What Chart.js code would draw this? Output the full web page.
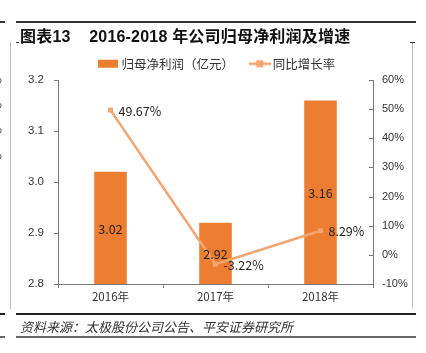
<!DOCTYPE html>
<html><head><meta charset="utf-8">
<script src="https://cdn.jsdelivr.net/npm/chart.js@4"></script>
<style>
html,body{margin:0;padding:0;background:#fff;width:426px;height:353px;overflow:hidden;}
#wrap{position:relative;width:426px;height:353px;}
canvas{position:absolute;left:0;top:0;}
.abs{position:absolute;}
#title{left:20px;top:23px;font:bold 16px "Liberation Sans","Noto Sans CJK SC",sans-serif;color:#111;white-space:nowrap;letter-spacing:0.2px;}
#src{left:20px;top:317px;font:italic 13px "Noto Sans CJK SC",sans-serif;color:#333;white-space:nowrap;}
.frag{font:11px "Liberation Sans",sans-serif;color:#333;}
</style></head>
<body><div id="wrap">
<canvas id="c" width="426" height="353"></canvas>
<div class="abs" style="left:16px;top:21px;width:400px;height:1.5px;background:#333"></div>
<div class="abs" style="left:0;top:21px;width:5px;height:1.5px;background:#333"></div>
<div id="title" class="abs">图表13&nbsp;&nbsp;&nbsp;&nbsp;2016-2018 年公司归母净利润及增速</div>
<div class="abs" style="left:10px;top:42px;width:1px;height:267px;background:#bbb"></div>
<div class="abs" style="left:412px;top:42px;width:1px;height:266px;background:#bbb"></div>
<div class="abs" style="left:16px;top:42px;width:3px;height:1px;background:#333"></div>
<div class="abs" style="left:410px;top:42px;width:5px;height:1px;background:#333"></div>
<div class="abs" style="left:16px;top:313px;width:400px;height:1.5px;background:#222"></div>
<div class="abs" style="left:0;top:313px;width:5px;height:1.5px;background:#222"></div>
<div id="src" class="abs">资料来源：太极股份公司公告、平安证券研究所</div>
<div class="abs" style="left:16px;top:336px;width:400px;height:2px;background:#666"></div>
<div class="abs" style="left:0;top:336px;width:5px;height:2px;background:#666"></div>
<div class="abs frag" style="left:-8px;top:73px">%</div>
<div class="abs frag" style="left:-8px;top:98px">%</div>
<div class="abs frag" style="left:-8px;top:123px">%</div>
<div class="abs frag" style="left:-8px;top:149px">%</div>
</div>
<script>
const categories = ['2016年', '2017年', '2018年'];
const profit = [3.02, 2.92, 3.16];           // 归母净利润（亿元）
const growth = [49.67, -3.22, 8.29];         // 同比增长率 (%)
const leftTicks = [2.8, 2.9, 3.0, 3.1, 3.2];
const rightTicks = [-10, 0, 10, 20, 30, 40, 50, 60];

const BAR = '#ED7D31';
const LINE = '#F4A46E';
const TXT = '#333';
const AXIS = '#777';

function mkIcon(kind){
  const cv = document.createElement('canvas');
  cv.width = 22; cv.height = 10;
  const g = cv.getContext('2d');
  if(kind==='bar'){ g.fillStyle = BAR; g.fillRect(0,1,20,8); }
  else { g.strokeStyle = LINE; g.lineWidth = 2.5; g.beginPath(); g.moveTo(0,5); g.lineTo(22,5); g.stroke();
         g.fillStyle = LINE; g.fillRect(7,1.5,7,7); }
  return cv;
}
const iconBar = mkIcon('bar'), iconLine = mkIcon('line');

const labelPlugin = {
  id:'labels',
  afterDatasetsDraw(chart){
    const ctx = chart.ctx;
    ctx.save();
    ctx.font = '12.5px "Noto Sans CJK SC", sans-serif';
    ctx.fillStyle = '#222';
    ctx.textBaseline = 'middle';
    const base = chart.scales.y.getPixelForValue(2.8);
    chart.getDatasetMeta(0).data.forEach((b,i)=>{
      const y = chart.scales.y.getPixelForValue(profit[i]);
      ctx.textAlign='center';
      ctx.fillText(profit[i].toFixed(2), b.x, (y+base)/2+1);
    });
    chart.getDatasetMeta(1).data.forEach((p,i)=>{
      ctx.textAlign='left';
      ctx.fillText(growth[i].toFixed(2)+'%', p.x+8, p.y+1);
    });
    const ys = chart.scales.y1;
    ctx.strokeStyle = AXIS; ctx.lineWidth = 1;
    rightTicks.forEach(v=>{
      const y = Math.round(ys.getPixelForValue(v))+0.5;
      ctx.beginPath(); ctx.moveTo(ys.left-4, y); ctx.lineTo(ys.left, y); ctx.stroke();
    });
    ctx.restore();
  }
};

const chart = new Chart(document.getElementById('c'), {
  data:{
    labels: categories,
    datasets:[
      {type:'bar', label:'归母净利润（亿元）', data: profit, backgroundColor: BAR, yAxisID:'y', barPercentage:0.62, categoryPercentage:0.5, order:2},
      {type:'line', label:'同比增长率', data: growth, borderColor: LINE, backgroundColor: LINE, borderWidth:2.5,
       pointStyle:'rect', pointRadius:3.5, pointBackgroundColor: LINE, pointBorderWidth:0, yAxisID:'y1', order:1, tension:0}
    ]
  },
  options:{
    responsive:false, animation:false, devicePixelRatio:1,
    layout:{padding:{left:18, right:6, top:44, bottom:40}},
    plugins:{
      legend:{position:'top', labels:{
        usePointStyle:true, boxWidth:22, boxHeight:10, padding:20,
        font:{size:12.5, family:'"Noto Sans CJK SC", sans-serif'}, color:TXT,
        generateLabels(chart){
          return chart.data.datasets.map((d,i)=>({text:d.label, pointStyle: i===0?iconBar:iconLine, datasetIndex:i, fontColor:TXT, lineWidth:0, strokeStyle:'transparent', fillStyle:'transparent'}));
        }
      }},
      tooltip:{enabled:false}
    },
    scales:{
      x:{
        grid:{display:true, drawOnChartArea:false, offset:true, tickLength:4, color:AXIS},
        border:{color:AXIS},
        ticks:{color:TXT, font:{size:11.5, family:'"Noto Sans CJK SC", sans-serif'}, padding:2},
        afterFit(s){ s.height = 353-40-284; }
      },
      y:{
        position:'left', min:2.8, max:3.2,
        afterBuildTicks(s){ s.ticks = leftTicks.map(v=>({value:v})); },
        grid:{drawOnChartArea:false, tickLength:4, color:AXIS},
        border:{color:AXIS},
        ticks:{color:TXT, font:{size:11.5, family:'"Liberation Sans", sans-serif'}, padding:10, callback:v=>v.toFixed(1)},
        afterFit(s){ s.width = 40; }
      },
      y1:{
        position:'right', min:-10, max:60,
        afterBuildTicks(s){ s.ticks = rightTicks.map(v=>({value:v})); },
        grid:{drawOnChartArea:false, drawTicks:false, color:AXIS},
        border:{color:AXIS},
        ticks:{color:TXT, font:{size:11, family:'"Liberation Sans", sans-serif'}, padding:9, callback:v=>v+'%'},
        afterFit(s){ s.width = 47; }
      }
    }
  },
  plugins:[labelPlugin]
});
const dt = 80 - chart.chartArea.top;
if (Math.abs(dt) > 0.5) { chart.options.layout.padding.top += dt; chart.update('none'); }
</script>
</body></html>
